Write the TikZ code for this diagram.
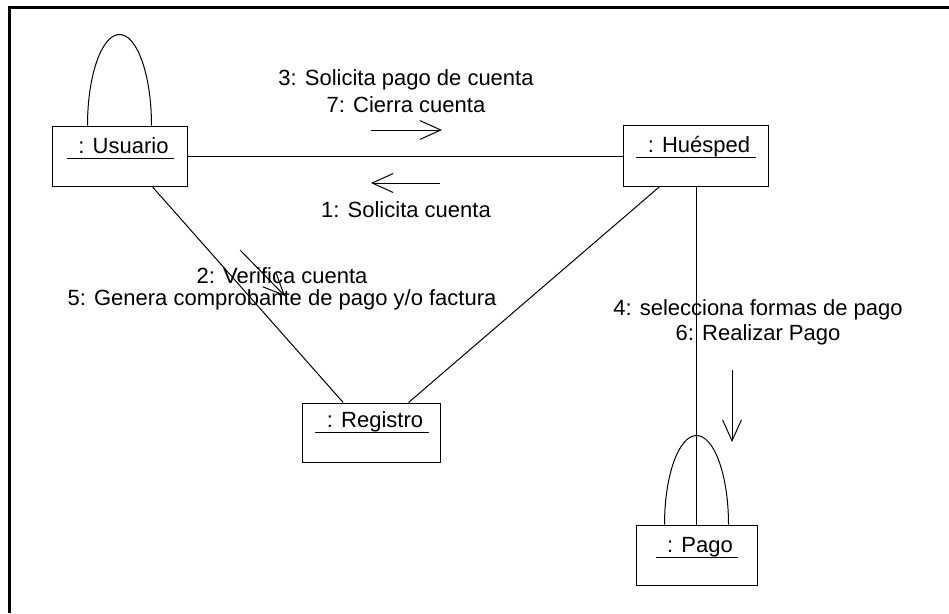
\documentclass[tikz,border=0pt]{standalone}
\usepackage{fontspec}
\setmainfont{Liberation Sans}
\usetikzlibrary{arrows.meta,calc}
\begin{document}
\begin{tikzpicture}[x=1pt,y=-1pt,line width=1pt,
  obj/.style={draw,rectangle,minimum width=#1,minimum height=60pt,inner sep=0pt},
  lbl/.style={font=\fontsize{22}{26}\selectfont,inner sep=0pt},
  msg/.style={-{Straight Barb[length=21pt,width=19pt,line width=1pt]}}]
\useasboundingbox (0,0) rectangle (949,613);
% frame
\draw[line width=3pt] (9,613) -- (9,7.5) -- (949,7.5);
% objects
\node[obj=135pt] (usuario) at (119.5,156) {};
\node[obj=145pt,minimum height=61pt] (huesped) at (695.5,155.5) {};
\node[obj=138pt,minimum height=59pt] (registro) at (371,432.5) {};
\node[obj=121pt] (pago) at (696.5,555) {};
% object names
\node[lbl,anchor=base] (tU) at (123.5,153) {: Usuario};
\node[lbl,anchor=base] (tH) at (699,152) {: Huésped};
\node[lbl,anchor=base] (tR) at (375,427) {: Registro};
\node[lbl,anchor=base] (tP) at (700,552) {: Pago};
\foreach \t in {tU,tH,tR,tP}
  \draw ($(\t.base west)+(-11,5)$) -- ($(\t.base east)+(5,5)$);
% links
\draw (usuario.east) -- (usuario.east -| huesped.west);
\draw ($(usuario.south west)!0.74!(usuario.south east)$) -- ($(registro.north west)!0.3!(registro.north east)$);
\draw ($(huesped.south west)!0.255!(huesped.south east)$) -- ($(registro.north west)!0.77!(registro.north east)$);
\draw (huesped.south -| pago.north) -- (pago.north);
% self loops
\draw (usuario.north) ++(-32,0) arc[start angle=180,end angle=360,x radius=32,y radius=91];
\draw (pago.north) ++(-32,0) arc[start angle=180,end angle=360,x radius=32,y radius=89];
% message arrows
\coordinate (a3s) at (371,130); \coordinate (a3e) at (442,130);
\draw[msg] (a3s) -- (a3e);
\coordinate (a1s) at (440,183); \coordinate (a1e) at (371,183);
\draw[msg] (a1s) -- (a1e);
\coordinate (a2s) at (240,250); \coordinate (a2e) at (285,296);
\draw[msg] (a2s) -- (a2e);
\coordinate (a4s) at (732,370); \coordinate (a4e) at (732,442);
\draw[msg] (a4s) -- (a4e);
% message labels
\node[lbl,anchor=base] (m3) at (406,85) {3: Solicita pago de cuenta};
\node[lbl,anchor=base] (m7) at (406,112) {7: Cierra cuenta};
\node[lbl,anchor=base] (m1) at (406,217) {1: Solicita cuenta};
\node[lbl,anchor=base] (m2) at (282,283) {2: Verifica cuenta};
\node[lbl,anchor=base] (m5) at (282,305) {5: Genera comprobante de pago y/o factura};
\node[lbl,anchor=base] (m4) at (758,315) {4: selecciona formas de pago};
\node[lbl,anchor=base] (m6) at (758,340) {6: Realizar Pago};
\end{tikzpicture}
\end{document}
